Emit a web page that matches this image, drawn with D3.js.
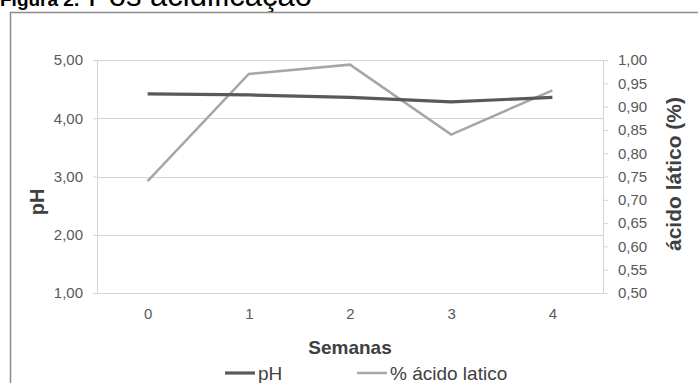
<!DOCTYPE html>
<html>
<head>
<meta charset="utf-8">
<script src="https://cdn.jsdelivr.net/npm/d3@7"></script>
<style>
  body { margin: 0; background: #fff; }
  svg { display: block; font-family: "Liberation Sans", Arial, sans-serif; }
</style>
</head>
<body>
<div id="chart"></div>
<script>
const semanas = [0, 1, 2, 3, 4];
const ph = [4.42, 4.40, 4.36, 4.28, 4.36];
const acido = [0.74, 0.97, 0.99, 0.84, 0.935];
const phTicks = [1, 2, 3, 4, 5];
const acidoTicks = [0.5, 0.55, 0.6, 0.65, 0.7, 0.75, 0.8, 0.85, 0.9, 0.95, 1.0];

const width = 698, height = 383;
const margin = { top: 60, right: 95, bottom: 90, left: 97 };

const svg = d3.select('#chart')
    .append('svg')
    .attr('width', width)
    .attr('height', height);

// title (cut off at the top, as in the figure) and frame
svg.append('text')
    .attr('x', 0).attr('y', 5.5)
    .attr('font-size', 19)
    .attr('font-weight', 'bold')
    .attr('fill', '#000')
    .text('Figura 2.');
svg.append('text')
    .attr('x', 88).attr('y', 5.5)
    .attr('font-size', 31)
    .attr('fill', '#000')
    .text('Pós acidificação');

svg.append('path')
    .attr('d', `M10.5,${height + 5}V12.5H${width + 5}`)
    .attr('fill', 'none')
    .attr('stroke', '#8c8c8c')
    .attr('stroke-width', 1.5);

const x = d3.scalePoint()
    .domain(semanas)
    .range([margin.left, width - margin.right])
    .padding(0.5);

const yL = d3.scaleLinear()
    .domain([1, 5])
    .range([height - margin.bottom, margin.top]);

const yR = d3.scaleLinear()
    .domain([0.5, 1.0])
    .range([height - margin.bottom, margin.top]);

const fmt = d => d3.format('.2f')(d).replace('.', ',');

// gridlines
svg.append('g')
    .selectAll('line')
    .data(phTicks)
    .join('line')
    .attr('x1', margin.left).attr('x2', width - margin.right)
    .attr('y1', d => Math.round(yL(d)) + 0.5).attr('y2', d => Math.round(yL(d)) + 0.5)
    .attr('stroke', '#d4d4d4')
    .attr('stroke-width', 1.2);

function leftAxis(g) {
    g.attr('transform', `translate(${margin.left},0)`)
        .call(d3.axisLeft(yL).tickValues(phTicks).tickFormat(fmt).tickSize(4).tickPadding(10))
        .attr('font-size', 15)
        .attr('font-family', null);
    g.select('.domain').attr('stroke', '#d4d4d4');
    g.selectAll('.tick line').attr('stroke', '#d4d4d4');
    g.selectAll('.tick text').attr('fill', '#595959');
}

function rightAxis(g) {
    g.attr('transform', `translate(${width - margin.right},0)`)
        .call(d3.axisRight(yR).tickValues(acidoTicks).tickFormat(fmt).tickSize(5).tickPadding(10))
        .attr('font-size', 15)
        .attr('font-family', null);
    g.select('.domain').attr('stroke', '#d4d4d4');
    g.selectAll('.tick line').attr('stroke', '#d4d4d4');
    g.selectAll('.tick text').attr('fill', '#595959');
}

function bottomAxis(g) {
    g.attr('transform', `translate(0,${height - margin.bottom})`)
        .call(d3.axisBottom(x).tickSize(0).tickPadding(15))
        .attr('font-size', 15)
        .attr('font-family', null);
    g.select('.domain').remove();
    g.selectAll('.tick text').attr('fill', '#595959');
}

svg.append('g').call(leftAxis);
svg.append('g').call(rightAxis);
svg.append('g').call(bottomAxis);

// axis titles
svg.append('text')
    .attr('transform', 'translate(44,202) rotate(-90)')
    .attr('text-anchor', 'middle')
    .attr('font-size', 20)
    .attr('font-weight', 'bold')
    .attr('fill', '#404040')
    .text('pH');

svg.append('text')
    .attr('transform', 'translate(681,174) rotate(-90)')
    .attr('text-anchor', 'middle')
    .attr('font-size', 21)
    .attr('font-weight', 'bold')
    .attr('fill', '#404040')
    .text('ácido lático (%)');

svg.append('text')
    .attr('x', x(2)).attr('y', 354)
    .attr('text-anchor', 'middle')
    .attr('font-size', 19)
    .attr('font-weight', 'bold')
    .attr('fill', '#404040')
    .text('Semanas');

// lines
svg.append('path')
    .datum(acido)
    .attr('fill', 'none')
    .attr('stroke', '#a6a6a6')
    .attr('stroke-width', 2.5)
    .attr('d', d3.line().x((d, i) => x(semanas[i])).y(d => yR(d)));

svg.append('path')
    .datum(ph)
    .attr('fill', 'none')
    .attr('stroke', '#595959')
    .attr('stroke-width', 3.2)
    .attr('d', d3.line().x((d, i) => x(semanas[i])).y(d => yL(d)));

// legend
const legend = [
    { label: 'pH', color: '#595959', w: 3.2, x: 225 },
    { label: '% ácido latico', color: '#a6a6a6', w: 2.5, x: 357 }
];
const lg = svg.append('g')
    .selectAll('g')
    .data(legend)
    .join('g')
    .attr('transform', d => `translate(${d.x},373)`);
lg.append('line')
    .attr('x1', 0).attr('x2', 30)
    .attr('stroke', d => d.color)
    .attr('stroke-width', d => d.w);
lg.append('text')
    .attr('x', 33).attr('y', 7)
    .attr('font-size', 19)
    .attr('fill', '#404040')
    .text(d => d.label);
</script>
</body>
</html>
